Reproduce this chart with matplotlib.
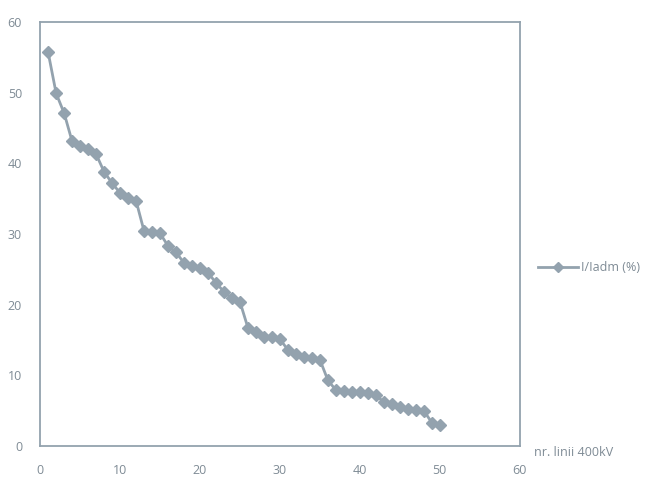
import matplotlib
matplotlib.use("Agg")
import matplotlib.pyplot as plt

# numbered 400kV lines vs. loading (I/Iadm, %)
line_no = list(range(1, 51))
loading = [55.7, 49.9, 47.1, 43.1, 42.4, 42.0, 41.3, 38.8, 37.2, 35.8,
           35.1, 34.7, 30.4, 30.3, 30.1, 28.3, 27.4, 25.9, 25.5, 25.2,
           24.5, 23.1, 21.8, 20.9, 20.4, 16.7, 16.1, 15.4, 15.4, 15.1,
           13.6, 13.0, 12.6, 12.4, 12.2, 9.3, 7.9, 7.8, 7.6, 7.6,
           7.5, 7.2, 6.2, 5.9, 5.5, 5.2, 5.1, 5.0, 3.3, 3.0]
ticks = [0, 10, 20, 30, 40, 50, 60]

col = "#93a2ae"
txt = "#7f8b95"
plt.rcParams['font.family'] = ['Open Sans', 'DejaVu Sans']

fig = plt.figure(figsize=(6.48, 4.8), dpi=100)
ax = fig.add_axes([0.062, 0.071, 0.74, 0.883])
ax.plot(line_no, loading, color=col, lw=2, marker="D", ms=6.5,
        label="I/Iadm (%)")
ax.set_xlim(0, 60)
ax.set_ylim(0, 60)
ax.set_xticks(ticks)
ax.set_yticks(ticks)
ax.tick_params(length=0, colors=txt, labelsize=9, pad=13)
for s in ax.spines.values():
    s.set_color(col)
    s.set_linewidth(1.3)

fig.text(0.885, 0.05, "nr. linii 400kV", color=txt, fontsize=9, ha="center")
ax.legend(loc="center left", bbox_to_anchor=(1.015, 0.42), frameon=False,
          fontsize=9, labelcolor=txt, handlelength=3.2, handletextpad=0.2,
          markerscale=0.85)

fig.savefig("out.png", dpi=100)
